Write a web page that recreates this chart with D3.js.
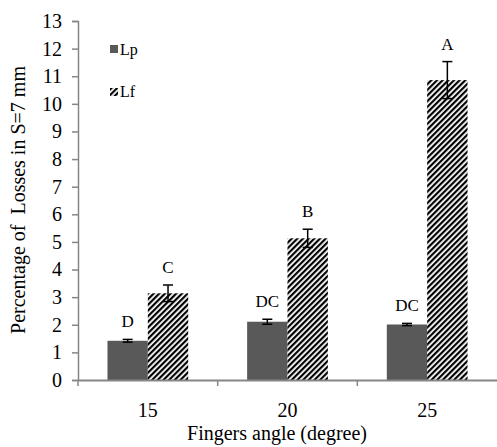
<!DOCTYPE html>
<html>
<head>
<meta charset="utf-8">
<script src="https://cdn.jsdelivr.net/npm/d3@7"></script>
<style>
body{margin:0;background:#fff;}
svg{display:block;}
</style>
</head>
<body>
<svg id="chart" width="497" height="447"></svg>
<script>
const categories = ["15", "20", "25"];
const seriesNames = ["Lp", "Lf"];
const lpValues = [1.42, 2.11, 2.01];
const lfValues = [3.14, 5.13, 10.86];
const lpErrors = [0.05, 0.09, 0.04];
const lfErrors = [0.30, 0.33, 0.67];
const lpLetters = ["D", "DC", "DC"];
const lfLetters = ["C", "B", "A"];
const yTicks = [0,1,2,3,4,5,6,7,8,9,10,11,12,13];

const FONT = "Liberation Serif";
const svg = d3.select("#chart");
const margin = {left: 78, right: 0, top: 21, bottom: 67};
const W = 497, H = 447;
const plotBottom = H - margin.bottom; // 380

const defs = svg.append("defs");
const pat = defs.append("pattern")
  .attr("id", "hatch").attr("patternUnits", "userSpaceOnUse")
  .attr("width", 4).attr("height", 4)
  .attr("patternTransform", "rotate(45)");
pat.append("rect").attr("width", 4).attr("height", 4).attr("fill", "#fff");
pat.append("rect").attr("x", 0).attr("width", 2.2).attr("height", 4).attr("fill", "#000");

const y = d3.scaleLinear().domain([0, 13]).range([plotBottom, margin.top]);
const x0 = d3.scaleBand().domain(categories).range([margin.left, W - margin.right]).paddingInner(0).paddingOuter(0);
const x1 = d3.scaleBand().domain(seriesNames).range([0, x0.bandwidth()]).paddingInner(0).paddingOuter(0.73);

const data = categories.map((c, i) => ({
  cat: c,
  series: [
    {name: "Lp", v: lpValues[i], e: lpErrors[i], letter: lpLetters[i]},
    {name: "Lf", v: lfValues[i], e: lfErrors[i], letter: lfLetters[i]}
  ]
}));

const axisColor = "#868686";

// Y axis
const yAxis = d3.axisLeft(y).tickValues(yTicks).tickSize(6).tickPadding(10).tickFormat(d3.format("d"));
const gy = svg.append("g").attr("transform", `translate(${margin.left},0)`).call(yAxis)
  .attr("font-family", FONT).attr("font-size", 20);
gy.select(".domain").attr("stroke", axisColor).attr("stroke-width", 1.5);
gy.selectAll(".tick line").attr("stroke", axisColor).attr("stroke-width", 1.5);
gy.selectAll(".tick text").attr("fill", "#000");

// Groups & bars
const groups = svg.append("g").selectAll("g").data(data).join("g")
  .attr("transform", d => `translate(${x0(d.cat)},0)`);

groups.selectAll("rect").data(d => d.series).join("rect")
  .attr("x", d => x1(d.name))
  .attr("y", d => y(d.v))
  .attr("width", x1.bandwidth())
  .attr("height", d => y(0) - y(d.v))
  .attr("fill", d => d.name === "Lp" ? "#595959" : "url(#hatch)");

// Error bars
const eb = groups.selectAll("g.err").data(d => d.series).join("g").attr("class", "err");
eb.append("line")
  .attr("x1", d => x1(d.name) + x1.bandwidth()/2)
  .attr("x2", d => x1(d.name) + x1.bandwidth()/2)
  .attr("y1", d => y(d.v + d.e)).attr("y2", d => y(d.v - d.e))
  .attr("stroke", "#000").attr("stroke-width", 1.5);
eb.selectAll("line.cap").data(d => [{d, val: d.v + d.e}, {d, val: d.v - d.e}]).join("line")
  .attr("class", "cap")
  .attr("x1", o => x1(o.d.name) + x1.bandwidth()/2 - 5)
  .attr("x2", o => x1(o.d.name) + x1.bandwidth()/2 + 5)
  .attr("y1", o => y(o.val)).attr("y2", o => y(o.val))
  .attr("stroke", "#000").attr("stroke-width", 1.5);

// Letters
groups.selectAll("text.letter").data(d => d.series).join("text")
  .attr("class", "letter")
  .attr("x", d => x1(d.name) + x1.bandwidth()/2)
  .attr("y", d => y(d.v + d.e) - 12)
  .attr("text-anchor", "middle")
  .attr("font-family", FONT).attr("font-size", 17).attr("fill", "#000")
  .text(d => d.letter);

// X axis
const xAxis = d3.axisBottom(x0).tickSize(0).tickPadding(23);
const gx = svg.append("g").attr("transform", `translate(0,${plotBottom})`).call(xAxis)
  .attr("font-family", FONT).attr("font-size", 20);
gx.select(".domain").attr("stroke", axisColor).attr("stroke-width", 2);
gx.selectAll(".tick text").attr("fill", "#000");
// category separator ticks
const sepTicks = [margin.left, x0("20"), x0("25")];
svg.append("g").selectAll("line").data(sepTicks).join("line")
  .attr("x1", d => d).attr("x2", d => d)
  .attr("y1", plotBottom).attr("y2", plotBottom + 6)
  .attr("stroke", axisColor).attr("stroke-width", 1.5);

// Axis titles
svg.append("text").attr("x", 277).attr("y", 440).attr("text-anchor", "middle")
  .attr("font-family", FONT).attr("font-size", 20).attr("fill", "#000").text("Fingers angle (degree)");
svg.append("text").attr("transform", "translate(25,200) rotate(-90)")
  .attr("text-anchor", "middle").attr("font-family", FONT).attr("font-size", 20).attr("fill", "#000")
  .style("white-space", "pre")
  .text("Percentage of  Losses in S=7 mm");

// Legend
const legend = svg.append("g");
legend.append("rect").attr("x", 110).attr("y", 45).attr("width", 8).attr("height", 8).attr("fill", "#595959");
legend.append("text").attr("x", 120).attr("y", 54.5).attr("font-family", FONT).attr("font-size", 16).attr("fill", "#000").text(seriesNames[0]);
legend.append("rect").attr("x", 110).attr("y", 88).attr("width", 8).attr("height", 8).attr("fill", "url(#hatch)");
legend.append("text").attr("x", 120).attr("y", 97).attr("font-family", FONT).attr("font-size", 16).attr("fill", "#000").text(seriesNames[1]);
</script>
</body>
</html>
